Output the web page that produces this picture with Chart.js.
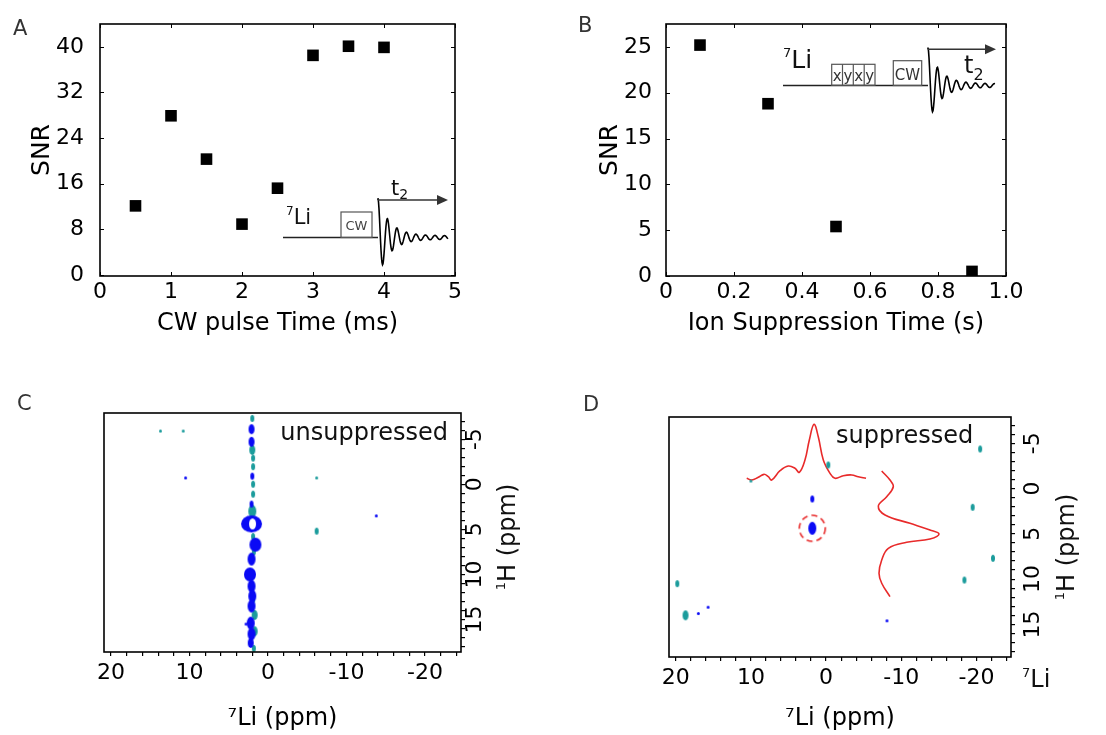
<!DOCTYPE html>
<html>
<head>
<meta charset="utf-8">
<script src="https://cdn.jsdelivr.net/npm/chart.js@4.4.1/dist/chart.umd.min.js"></script>
<style>
  body { margin: 0; background: #fff; width: 1106px; height: 735px; overflow: hidden; position: relative; }
  canvas { position: absolute; }
</style>
</head>
<body>
<canvas id="chartA" width="553" height="367" style="left:0;top:0"></canvas>
<canvas id="chartB" width="553" height="367" style="left:553px;top:0"></canvas>
<canvas id="chartC" width="553" height="368" style="left:0;top:367px"></canvas>
<canvas id="chartD" width="553" height="368" style="left:553px;top:367px"></canvas>
<script>
const FONT = '"DejaVu Sans", sans-serif';
const BLUE = '#0a0af5';
const TEAL = '#1b9c9c';
const RED = '#e82a2a';

// A: SNR vs CW pulse length
const cwPulseMs = [0.5, 1.0, 1.5, 2.0, 2.5, 3.0, 3.5, 4.0];
const cwSnr = [12.1, 27.9, 20.3, 8.9, 15.2, 38.5, 40.1, 39.9];
const cwXTicks = [0, 1, 2, 3, 4, 5];
const cwYTicks = [0, 8, 16, 24, 32, 40];

// B: SNR vs ion suppression time
const suppTimeS = [0.1, 0.3, 0.5, 0.9];
const suppSnr = [25.2, 18.8, 5.4, 0.5];
const suppXTicks = [0, 0.2, 0.4, 0.6, 0.8, 1.0];
const suppYTicks = [0, 5, 10, 15, 20, 25];

// C, D: 7Li / 1H axes
const liTickLabels = [20, 10, 0, -10, -20];
const hTickLabels = [-5, 0, 5, 10, 15];

// C: unsuppressed spectrum peaks (level = contour size class)
const cPosLi = [2.1, 2.1, 2.0, 2.1, 2.1, 1.6, 2.1, 2.3, 2.1, 2.0, 2.1, 2.2, 2.1, 2.2, 2.8, 10.5, -13.8];
const cPosH = [-6.1, -4.7, -0.9, 2.2, 4.4, 6.7, 8.3, 10.0, 11.3, 12.4, 13.5, 15.4, 16.6, 17.6, 15.5, -0.7, 3.5];
const cPosLevel = [2, 2, 1, 1, 5, 4, 3, 4, 3, 3, 3, 3, 3, 2, 0, 0, 0];
const cNegLi = [2.0, 2.0, 1.9, 1.9, 1.9, 1.9, 2.0, 1.9, 1.8, 1.9, 1.7, 1.7, 1.8, 13.7, 10.8, -6.2, -6.2];
const cNegH = [-7.3, -3.8, -2.9, -1.95, 0.0, 1.1, 3.0, 5.8, 7.5, 12.8, 14.5, 16.3, 18.2, -5.9, -5.9, -0.7, 5.2];
const cNegLevel = [1, 2, 1, 1, 1, 1, 3, 1, 1, 1, 2, 2, 1, 0, 0, 0, 1];

// D: suppressed spectrum peaks
const dPosLi = [1.84, 1.84, 17.0, 15.7, -8.1];
const dPosH = [1.15, 4.39, 13.8, 13.1, 14.6];
const dPosLevel = [1, 3, 0, 0, 0];
const dNegLi = [-0.29, -20.5, -19.5, -22.2, -18.4, 19.8, 18.7, 10.0];
const dNegH = [-2.6, -4.37, 2.07, 7.7, 10.1, 10.5, 14.0, -0.83];
const dNegLevel = [1, 1, 1, 1, 1, 1, 2, 0];
const dCircledLi = [1.84];
const dCircledH = [4.39];

// D: 1D projections drawn over the 2D map
const dLiProjLi = [10.56, 9.9, 9.02, 8.26, 7.69, 7.24, 6.13, 5.03, 4.14, 3.56, 2.81, 2.23, 1.61, 1.04, 0.37, -0.52, -1.18, -2.29, -3.41, -4.28, -5.31];
const dLiProjH = [-1.13, -0.94, -1.24, -1.57, -1.31, -0.94, -1.97, -2.49, -2.24, -1.79, -3.15, -5.36, -7.09, -5.72, -3.15, -1.68, -1.13, -1.42, -1.5, -1.31, -1.13];
const dHProjLi = [-7.4, -8.5, -8.94, -8.06, -6.95, -7.84, -11.16, -13.82, -15.02, -13.82, -10.72, -8.28, -7.4, -7.04, -7.4, -8.5];
const dHProjH = [-1.94, -0.94, -0.2, 0.9, 1.93, 2.92, 3.84, 4.58, 5.02, 5.57, 5.94, 6.6, 7.89, 9.36, 10.46, 11.94];

// ---------- drawing helpers ----------
function runs(ctx, parts, x, y, align) {
  let w = 0;
  parts.forEach(p => { ctx.font = p[1] + 'px ' + FONT; w += ctx.measureText(p[0]).width; });
  let cx = align === 'center' ? x - w / 2 : align === 'right' ? x - w : x;
  ctx.textAlign = 'left';
  ctx.textBaseline = 'alphabetic';
  parts.forEach(p => {
    ctx.font = p[1] + 'px ' + FONT;
    ctx.fillText(p[0], cx, y + (p[2] || 0));
    cx += ctx.measureText(p[0]).width;
  });
}

function rotRuns(ctx, parts, cx, cy) {
  ctx.save();
  ctx.translate(cx, cy);
  ctx.rotate(-Math.PI / 2);
  runs(ctx, parts, 0, 8, 'center');
  ctx.restore();
}

function fid(ctx, x0, base, top, len, period) {
  const amp = base - top;
  ctx.beginPath();
  ctx.moveTo(x0, top);
  for (let d = 0; d <= len; d += 0.5) {
    const a = amp * Math.exp(-d / 12) + 1.8;
    ctx.lineTo(x0 + d, base - a * Math.cos(2 * Math.PI * d / period));
  }
  ctx.stroke();
}

function arrow(ctx, x0, y, x1) {
  ctx.beginPath();
  ctx.moveTo(x0, y);
  ctx.lineTo(x1 - 6, y);
  ctx.stroke();
  ctx.beginPath();
  ctx.moveTo(x1, y);
  ctx.lineTo(x1 - 11, y - 5);
  ctx.lineTo(x1 - 11, y + 5);
  ctx.closePath();
  ctx.fill();
}

const blobSize = [[3, 3], [4, 7], [6, 10], [8, 13], [12, 14], [21, 17]];
const blobCache = {};
function blob(color, lvl) {
  const key = color + lvl;
  if (blobCache[key]) return blobCache[key];
  const [w, h] = blobSize[lvl];
  const c = document.createElement('canvas');
  c.width = w + 2;
  c.height = h + 2;
  const g = c.getContext('2d');
  g.fillStyle = color;
  g.beginPath();
  g.ellipse(c.width / 2, c.height / 2, w / 2, h / 2, 0, 0, Math.PI * 2);
  g.fill();
  if (lvl === 5) {
    g.globalCompositeOperation = 'destination-out';
    g.beginPath();
    g.ellipse(c.width / 2 + 1, c.height / 2, 3.5, 5.5, 0, 0, Math.PI * 2);
    g.fill();
  }
  blobCache[key] = c;
  return c;
}

function dashedCircle() {
  const c = document.createElement('canvas');
  c.width = 30;
  c.height = 30;
  const g = c.getContext('2d');
  g.strokeStyle = RED;
  g.lineWidth = 1.6;
  g.setLineDash([6, 4]);
  g.beginPath();
  g.arc(15, 15, 13, 0, Math.PI * 2);
  g.stroke();
  return c;
}

function peaks(li, h, lvl, color) {
  return {
    data: li.map((v, i) => ({ x: v, y: h[i], lvl: lvl[i] })),
    pointStyle: c => (c.raw ? blob(color, c.raw.lvl) : 'circle'),
    pointRadius: 6,
    backgroundColor: color,
    borderWidth: 0
  };
}

function proj(li, h) {
  return {
    data: li.map((v, i) => ({ x: v, y: h[i] })),
    showLine: true,
    borderColor: RED,
    borderWidth: 1.6,
    pointRadius: 0,
    tension: 0.4
  };
}

function tickList(values) {
  return values.map(v => ({ value: v }));
}

function stepTicks(from, to, step) {
  const out = [];
  for (let v = from; v <= to; v += step) out.push({ value: v });
  return out;
}

// frame with inward ticks on all four sides (A, B)
const boxTicks = {
  id: 'boxTicks',
  afterDraw(chart) {
    const { ctx, chartArea: a, scales: { x, y } } = chart;
    ctx.save();
    ctx.strokeStyle = '#000';
    ctx.lineWidth = 1;
    ctx.beginPath();
    x.ticks.forEach(t => {
      const p = Math.round(x.getPixelForValue(t.value)) + 0.5;
      ctx.moveTo(p, a.bottom); ctx.lineTo(p, a.bottom - 4);
      ctx.moveTo(p, a.top); ctx.lineTo(p, a.top + 4);
    });
    y.ticks.forEach(t => {
      const p = Math.round(y.getPixelForValue(t.value)) + 0.5;
      ctx.moveTo(a.left, p); ctx.lineTo(a.left + 4, p);
      ctx.moveTo(a.right, p); ctx.lineTo(a.right - 4, p);
    });
    ctx.stroke();
    ctx.lineWidth = 1.6;
    ctx.strokeRect(a.left, a.top, a.right - a.left, a.bottom - a.top);
    ctx.restore();
  }
};

const frame = {
  id: 'frame',
  afterDraw(chart) {
    const { ctx, chartArea: a } = chart;
    ctx.save();
    ctx.strokeStyle = '#000';
    ctx.lineWidth = 1.6;
    ctx.strokeRect(a.left, a.top, a.right - a.left, a.bottom - a.top);
    ctx.restore();
  }
};

// page-coordinate overlay
function overlay(ox, oy, draw) {
  return {
    id: 'overlay',
    afterDraw(chart) {
      const ctx = chart.ctx;
      ctx.save();
      ctx.translate(-ox, -oy);
      ctx.fillStyle = '#111';
      draw(ctx);
      ctx.restore();
    }
  };
}

function snrChart(id, xs, ys, o, extra) {
  return new Chart(document.getElementById(id), {
    type: 'scatter',
    data: {
      datasets: [{
        data: xs.map((v, i) => ({ x: v, y: ys[i] })),
        pointStyle: 'rect',
        pointRadius: 8.2,
        backgroundColor: '#000',
        borderWidth: 0
      }]
    },
    options: {
      responsive: false,
      animation: false,
      events: [],
      devicePixelRatio: 1,
      layout: { padding: { left: 0, top: 24, right: o.right, bottom: 0 } },
      plugins: { legend: { display: false }, tooltip: { enabled: false } },
      scales: {
        x: {
          type: 'linear', min: o.xmin, max: o.xmax,
          grid: { display: false }, border: { display: false },
          afterBuildTicks: s => { s.ticks = tickList(o.xticks); },
          afterFit: s => { s.height = 91; },
          ticks: { autoSkip: false, maxRotation: 0, padding: -5, color: '#000', font: { family: FONT, size: 22 }, callback: o.xfmt },
          title: { display: true, text: o.xtitle, color: '#000', font: { family: FONT, size: 24 }, padding: { top: 0, bottom: 29 } }
        },
        y: {
          type: 'linear', min: o.ymin, max: o.ymax,
          grid: { display: false }, border: { display: false },
          afterBuildTicks: s => { s.ticks = tickList(o.yticks); },
          afterFit: s => { s.width = o.yw; },
          ticks: { autoSkip: false, padding: o.ypad, color: '#000', font: { family: FONT, size: 22 } },
          title: { display: true, text: 'SNR', color: '#000', font: { family: FONT, size: 25 }, padding: { top: o.ytp, bottom: 0 } }
        }
      }
    },
    plugins: [boxTicks, extra]
  });
}

function nmrChart(id, datasets, o, extra) {
  const grid = { drawOnChartArea: false, drawTicks: true, tickLength: 4, color: '#000', lineWidth: 1.2 };
  return new Chart(document.getElementById(id), {
    type: 'scatter',
    data: { datasets },
    options: {
      responsive: false,
      animation: false,
      events: [],
      devicePixelRatio: 1,
      layout: { padding: { left: o.left, top: o.top, right: 0, bottom: 0 } },
      plugins: { legend: { display: false }, tooltip: { enabled: false } },
      scales: {
        x: {
          type: 'linear', reverse: true, min: -24.6, max: 20.9,
          grid, border: { display: false },
          afterBuildTicks: s => { s.ticks = stepTicks(-24, 20, 2); },
          afterFit: s => { s.height = o.xh; },
          ticks: { autoSkip: false, maxRotation: 0, padding: o.xpad, color: '#000', font: { family: FONT, size: 22 },
                   callback: v => (liTickLabels.includes(v) ? String(v) : '') },
          title: { display: true, text: '⁷Li (ppm)', color: '#000', font: { family: FONT, size: 24 }, padding: { top: 0, bottom: 2 } }
        },
        y: {
          type: 'linear', position: 'right', reverse: true, min: -7.9, max: 18.6,
          grid, border: { display: false },
          afterBuildTicks: s => { s.ticks = stepTicks(-7, 18, 1); },
          afterFit: s => { s.width = o.yw; },
          ticks: { autoSkip: false, minRotation: 90, maxRotation: 90, crossAlign: 'center', padding: o.ypad,
                   color: '#000', font: { family: FONT, size: 22 },
                   callback: v => (hTickLabels.includes(v) ? String(v) : '') }
        }
      }
    },
    plugins: [frame, extra]
  });
}

// ---------- A ----------
snrChart('chartA', cwPulseMs, cwSnr, {
  xmin: 0, xmax: 5, ymin: -0.2, ymax: 44, xticks: cwXTicks, yticks: cwYTicks,
  xfmt: v => String(v), xtitle: 'CW pulse Time (ms)', right: 98, yw: 100, ypad: 8, ytp: 27
}, overlay(0, 0, ctx => {
  ctx.fillStyle = '#333';
  runs(ctx, [['A', 21]], 13, 35, 'left');
  ctx.strokeStyle = '#222';
  ctx.lineWidth = 1.6;
  ctx.beginPath(); ctx.moveTo(283, 237.5); ctx.lineTo(378, 237.5); ctx.stroke();
  ctx.strokeStyle = '#555';
  ctx.lineWidth = 1.2;
  ctx.strokeRect(341, 212, 31, 25.5);
  ctx.fillStyle = '#444';
  runs(ctx, [['CW', 13]], 356.5, 230, 'center');
  ctx.strokeStyle = '#000';
  ctx.lineWidth = 1.6;
  fid(ctx, 378, 237.5, 200, 70, 9.5);
  ctx.fillStyle = '#333';
  ctx.strokeStyle = '#333';
  ctx.lineWidth = 1.4;
  arrow(ctx, 378, 200, 448);
  ctx.fillStyle = '#111';
  runs(ctx, [['7', 12, -9], ['Li', 21]], 286, 224, 'left');
  runs(ctx, [['t', 21], ['2', 14, 4]], 391, 195, 'left');
}));

// ---------- B ----------
snrChart('chartB', suppTimeS, suppSnr, {
  xmin: 0, xmax: 1.0, ymin: 0, ymax: 27.5, xticks: suppXTicks, yticks: suppYTicks,
  xfmt: v => (v === 0 ? '0' : v.toFixed(1)), xtitle: 'Ion Suppression Time (s)', right: 100, yw: 113, ypad: 6, ytp: 42
}, overlay(553, 0, ctx => {
  ctx.fillStyle = '#333';
  runs(ctx, [['B', 21]], 578, 32, 'left');
  ctx.strokeStyle = '#222';
  ctx.lineWidth = 1.6;
  ctx.beginPath(); ctx.moveTo(783, 85.5); ctx.lineTo(928, 85.5); ctx.stroke();
  ctx.strokeStyle = '#555';
  ctx.lineWidth = 1.2;
  ctx.strokeRect(831.7, 64.3, 43.3, 21);
  [842.5, 853.3, 864.2].forEach(x => { ctx.beginPath(); ctx.moveTo(x, 64.3); ctx.lineTo(x, 85); ctx.stroke(); });
  ctx.strokeRect(893.3, 60.7, 28.4, 24.8);
  ctx.fillStyle = '#333';
  ['x', 'y', 'x', 'y'].forEach((t, i) => runs(ctx, [[t, 15]], 837.1 + i * 10.83, 81, 'center'));
  runs(ctx, [['CW', 15]], 907.5, 80, 'center');
  ctx.strokeStyle = '#000';
  ctx.lineWidth = 1.6;
  fid(ctx, 928, 85.5, 49.3, 67, 9.5);
  ctx.strokeStyle = '#333';
  ctx.lineWidth = 1.4;
  arrow(ctx, 928, 49.3, 996);
  ctx.fillStyle = '#111';
  runs(ctx, [['7', 13, -11], ['Li', 25]], 783, 68, 'left');
  runs(ctx, [['t', 24], ['2', 16, 7]], 964, 73, 'left');
}));

// ---------- C ----------
nmrChart('chartC', [
  peaks(cPosLi, cPosH, cPosLevel, BLUE),
  peaks(cNegLi, cNegH, cNegLevel, TEAL)
], { left: 104, top: 46, xh: 83, yw: 92, xpad: 4.5, ypad: -4 }, overlay(0, 367, ctx => {
  ctx.fillStyle = '#333';
  runs(ctx, [['C', 21]], 17, 410, 'left');
  ctx.fillStyle = '#111';
  runs(ctx, [['unsuppressed', 24]], 448, 440, 'right');
  rotRuns(ctx, [['1', 13, -10], ['H (ppm)', 24]], 507, 537);
}));

// ---------- D ----------
nmrChart('chartD', [
  peaks(dPosLi, dPosH, dPosLevel, BLUE),
  peaks(dNegLi, dNegH, dNegLevel, TEAL),
  proj(dLiProjLi, dLiProjH),
  proj(dHProjLi, dHProjH),
  {
    data: dCircledLi.map((v, i) => ({ x: v, y: dCircledH[i] })),
    pointStyle: dashedCircle(),
    pointRadius: 14,
    borderWidth: 0
  }
], { left: 116, top: 50, xh: 78, yw: 95, xpad: 3.8, ypad: 4 }, overlay(553, 367, ctx => {
  ctx.fillStyle = '#333';
  runs(ctx, [['D', 21]], 583, 411, 'left');
  ctx.fillStyle = '#111';
  runs(ctx, [['suppressed', 24]], 836, 443, 'left');
  runs(ctx, [['7', 13, -10], ['Li', 24]], 1022, 687, 'left');
  rotRuns(ctx, [['1', 13, -10], ['H (ppm)', 24]], 1066, 547);
}));
</script>
</body>
</html>
